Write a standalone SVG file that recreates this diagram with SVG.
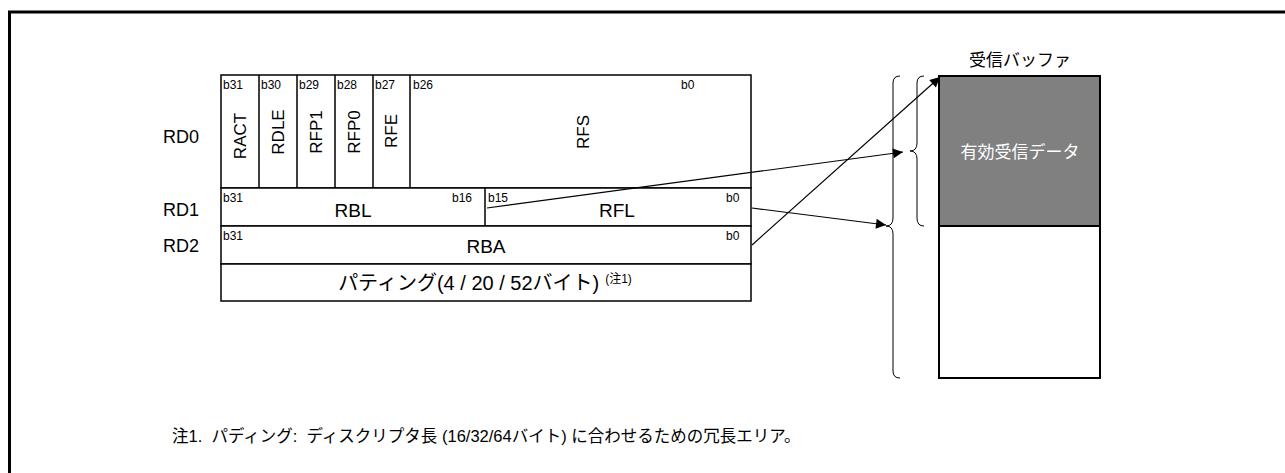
<svg xmlns="http://www.w3.org/2000/svg" width="1285" height="473" viewBox="0 0 1285 473">
<style>
text{font-family:"Liberation Sans","Noto Sans CJK JP",sans-serif;fill:#000}
.b{font-size:12px}
.f{font-size:19px}
.v{font-size:17px;text-anchor:middle;dominant-baseline:central}
.lbl{font-size:18px}
.j{font-size:17px}
.cell{fill:#fff;stroke:#000;stroke-width:1.5}
.ln{fill:none;stroke:#000;stroke-width:1.5}
.br{fill:none;stroke:#000;stroke-width:1}
.arr{fill:none;stroke:#000;stroke-width:1.2;marker-end:url(#ah)}
</style>
<defs>
<marker id="ah" viewBox="0 0 10 10" refX="10" refY="5" markerWidth="14" markerHeight="10" markerUnits="userSpaceOnUse" orient="auto">
<path d="M0,0 L10,5 L0,10 z" fill="#000"/>
</marker>
</defs>
<rect width="1285" height="473" fill="#fff"/>
<path d="M9.5 473 V12 H1285" fill="none" stroke="#000" stroke-width="3"/>

<g id="labels">
<text class="lbl" x="163" y="143">RD0</text>
<text class="lbl" x="163" y="216">RD1</text>
<text class="lbl" x="163" y="252">RD2</text>
</g>

<g id="rd0">
<rect class="cell" x="221" y="75" width="530" height="113"/>
<path class="ln" d="M259 75V188M297 75V188M335 75V188M373 75V188M410 75V188"/>
<text class="b" x="223" y="89">b31</text>
<text class="b" x="261" y="89">b30</text>
<text class="b" x="299" y="89">b29</text>
<text class="b" x="337" y="89">b28</text>
<text class="b" x="375" y="89">b27</text>
<text class="b" x="413" y="89">b26</text>
<text class="b" x="681" y="89">b0</text>
<text class="v" transform="translate(240,136) rotate(-90)">RACT</text>
<text class="v" transform="translate(278,132) rotate(-90)">RDLE</text>
<text class="v" transform="translate(316,132) rotate(-90)">RFP1</text>
<text class="v" transform="translate(354,132) rotate(-90)">RFP0</text>
<text class="v" transform="translate(391,131) rotate(-90)">RFE</text>
<text class="v" transform="translate(583,132) rotate(-90)">RFS</text>
</g>

<g id="rd1">
<rect class="cell" x="221" y="188" width="530" height="38"/>
<path class="ln" d="M485 188V226"/>
<text class="b" x="223" y="202">b31</text>
<text class="b" x="452" y="202">b16</text>
<text class="b" x="488" y="202">b15</text>
<text class="b" x="726" y="202">b0</text>
<text class="f" x="353" y="217" text-anchor="middle">RBL</text>
<text class="f" x="617" y="217" text-anchor="middle">RFL</text>
</g>

<g id="rd2">
<rect class="cell" x="221" y="226" width="530" height="38"/>
<text class="b" x="223" y="240">b31</text>
<text class="b" x="726" y="240">b0</text>
<text class="f" x="486" y="253" text-anchor="middle">RBA</text>
</g>

<g id="padding">
<rect class="cell" x="221" y="264" width="530" height="37"/>
<text x="485" y="290" text-anchor="middle" style="font-size:20px">パティング(4 / 20 / 52バイト)<tspan font-size="12" dx="6" dy="-7">(注1)</tspan></text>
</g>

<g id="buffer">
<text class="j" x="1020" y="66" text-anchor="middle">受信バッファ</text>
<rect x="939" y="76" width="161" height="150" fill="#808080" stroke="#000" stroke-width="2"/>
<rect x="939" y="226" width="161" height="152" fill="#fff" stroke="#000" stroke-width="2"/>
<text class="j" x="1020" y="158" text-anchor="middle" style="fill:#fff">有効受信データ</text>
</g>

<g id="braces">
<path class="br" d="M924 76 Q917 76 917 83 V143 Q917 151 910 151 Q917 151 917 159 V218 Q917 226 924 226"/>
<path class="br" d="M900 76 Q893 76 893 83 V218 Q893 226 886 226 Q893 226 893 234 V371 Q893 378 900 378"/>
</g>

<g id="connectors">
<path class="arr" d="M487 208 L903 152"/>
<path class="arr" d="M752 208 L886 225"/>
<path class="arr" d="M752 245 L940 77"/>
</g>

<text x="172" y="442" style="font-size:16.5px" xml:space="preserve">注1.  パディング:  ディスクリプタ長 (16/32/64バイト) に合わせるための冗長エリア。</text>
</svg>
